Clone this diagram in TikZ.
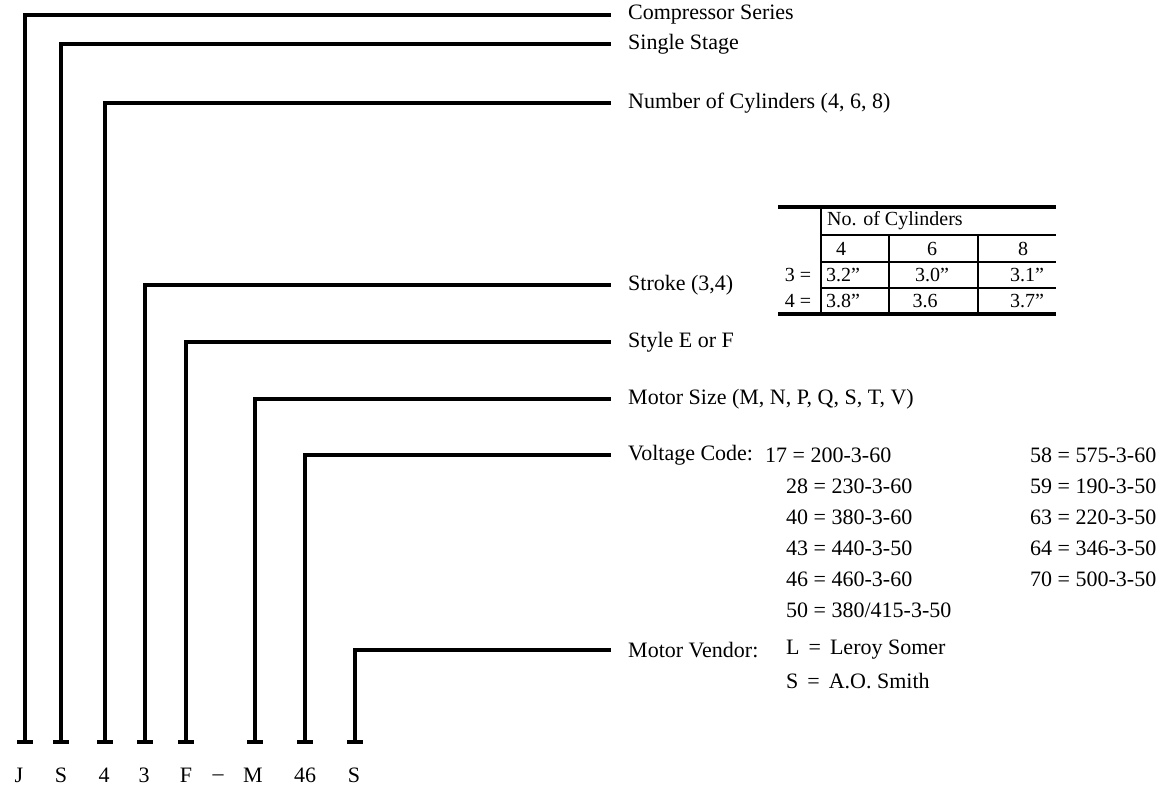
\documentclass[tikz,border=0pt]{standalone}
\usepackage{fontspec}
\setmainfont{Liberation Serif}
\usetikzlibrary{positioning}

\tikzset{
  lead/.style={line width=3.2pt, shorten >=17pt},
  foot/.style={line width=4.5pt},
  lbl/.style={anchor=west, inner sep=0pt, font=\fontsize{22}{26}\selectfont},
  letter/.style={inner sep=0pt, font=\fontsize{22}{26}\selectfont},
  tab/.style={inner sep=0pt, font=\fontsize{20}{22}\selectfont},
  rule/.style={line width=1.3pt},
  thickrule/.style={line width=4pt},
}

\begin{document}
\begin{tikzpicture}[x=1pt, y=-1pt]
\useasboundingbox (0,0) rectangle (1168,794);

% Beschriftungen rechts
\node[lbl] (series) at (628,15) {Compressor Series};
\node[lbl] (stage) at (628,44) {Single Stage};
\node[lbl] (cyl) at (628,103) {Number of Cylinders (4, 6, 8)};
\node[lbl] (stroke) at (628,285) {Stroke (3,4)};
\node[lbl] (style) at (628,342) {Style E or F};
\node[lbl] (motor) at (628,399) {Motor Size (M, N, P, Q, S, T, V)};
\node[lbl] (volt) at (628,455) {Voltage Code:};
\node[lbl] (vendor) at (628,650) {Motor Vendor:};

% Spannungscodes
\node[lbl] (v17) at (765,455) {17 = 200-3-60};
\node[lbl] (v28) at (786,486) {28 = 230-3-60};
\node[lbl] (v40) at (786,517) {40 = 380-3-60};
\node[lbl] (v43) at (786,548) {43 = 440-3-50};
\node[lbl] (v46) at (786,579) {46 = 460-3-60};
\node[lbl] (v50) at (786,610) {50 = 380/415-3-50};
\node[lbl] (v58) at (1030,455) {58 = 575-3-60};
\node[lbl] (v59) at (1030,486) {59 = 190-3-50};
\node[lbl] (v63) at (1030,517) {63 = 220-3-50};
\node[lbl] (v64) at (1030,548) {64 = 346-3-50};
\node[lbl] (v70) at (1030,579) {70 = 500-3-50};

% Motorhersteller
\node[lbl] (vendL) at (786,650) {L\hspace{9pt}=\hspace{9pt}Leroy Somer};
\node[lbl] (vendS) at (786,681) {S\hspace{9pt}=\hspace{9pt}A.O. Smith};

% Tabelle Hub
\draw[thickrule] (778,207) -- (1056,207);
\draw[thickrule] (778,314) -- (1056,314);
\draw[rule] (821,207) -- (821,314);
\draw[rule] (821,235) -- (1056,235);
\draw[rule] (821,262) -- (1056,262);
\draw[rule] (821,288) -- (1056,288);
\draw[rule] (889,235) -- (889,314);
\draw[rule] (978,235) -- (978,314);
\node[tab, anchor=west] (thead) at (827,221) {No. of Cylinders};
\node[tab] (t4) at (841,249) {4};
\node[tab] (t6) at (932,249) {6};
\node[tab] (t8) at (1023,249) {8};
\node[tab] (r3) at (798,275) {3 =};
\node[tab] (r4) at (798,301) {4 =};
\node[tab, anchor=west] (c32) at (826,275) {3.2''};
\node[tab] (c30) at (932,275) {3.0''};
\node[tab] (c31) at (1027,275) {3.1''};
\node[tab, anchor=west] (c38) at (826,301) {3.8''};
\node[tab] (c36) at (925,301) {3.6};
\node[tab] (c37) at (1027,301) {3.7''};

% Modellnummer unten
\node[letter] (cJ) at (19,775) {J};
\node[letter] (cS) at (61,775) {S};
\node[letter] (c4) at (104,775) {4};
\node[letter] (c3) at (144,775) {3};
\node[letter] (cF) at (186,775) {F};
\node[letter] (cdash) at (218,778) {--};
\node[letter] (cM) at (253,775) {M};
\node[letter] (c46) at (305,775) {46};
\node[letter] (cV) at (354,775) {S};

% Fusspunkte
\coordinate (fJ) at (25,742);
\coordinate (fS) at (61,742);
\coordinate (f4) at (105,742);
\coordinate (f3) at (145,742);
\coordinate (fF) at (186,742);
\coordinate (fM) at (255,742);
\coordinate (f46) at (305,742);
\coordinate (fV) at (355,742);

% Leitungen
\draw[lead] (fJ) |- (series.west);
\draw[lead] (fS) |- (stage.west);
\draw[lead] (f4) |- (cyl.west);
\draw[lead] (f3) |- (stroke.west);
\draw[lead] (fF) |- (style.west);
\draw[lead] (fM) |- (motor.west);
\draw[lead] (f46) |- (volt.west);
\draw[lead] (fV) |- (vendor.west);

% Fuesse
\foreach \f in {fJ,fS,f4,f3,fF,fM,f46,fV}
  \draw[foot] ([xshift=-8pt]\f) -- ([xshift=8pt]\f);
\end{tikzpicture}
\end{document}
